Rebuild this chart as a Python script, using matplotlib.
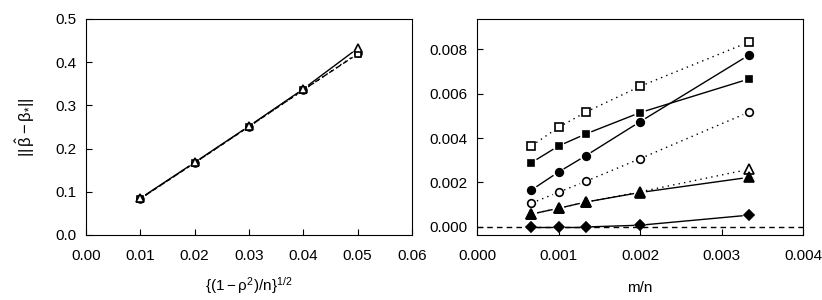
import numpy as np
import matplotlib
matplotlib.use("Agg")
import matplotlib.pyplot as plt

plt.rcParams['font.family'] = ['Liberation Sans', 'DejaVu Sans']
plt.rcParams['mathtext.fontset'] = 'custom'
plt.rcParams['mathtext.rm'] = 'Liberation Sans'
plt.rcParams['mathtext.it'] = 'Liberation Sans'
plt.rcParams['mathtext.bf'] = 'Liberation Sans:bold'

# ---- left panel data ----
left_x = [0.01, 0.02, 0.03, 0.04, 0.05]
left_tri = [0.085, 0.168, 0.252, 0.338, 0.432]
left_sq = [0.084, 0.167, 0.251, 0.336, 0.419]
left_circ = [0.084, 0.167, 0.251, 0.335, 0.421]
left_xticks = [0.00, 0.01, 0.02, 0.03, 0.04, 0.05, 0.06]
left_yticks = [0.0, 0.1, 0.2, 0.3, 0.4, 0.5]

# ---- right panel data ----
right_x = [1/1500, 1/1000, 1/750, 1/500, 1/300]
open_square = [0.00364, 0.00448, 0.00516, 0.00632, 0.00831]
filled_square = [0.00289, 0.00364, 0.00418, 0.00514, 0.00665]
filled_circle = [0.00166, 0.00247, 0.00320, 0.00473, 0.00772]
open_circle = [0.00107, 0.00156, 0.00205, 0.00307, 0.00516]
open_triangle = [0.00058, 0.00084, 0.00112, 0.00158, 0.00259]
filled_triangle = [0.00058, 0.00084, 0.00112, 0.00155, 0.00223]
filled_diamond = [0.0, 0.0, 0.0, 0.00008, 0.00053]
right_xticks = [0.000, 0.001, 0.002, 0.003, 0.004]
right_yticks = [0.000, 0.002, 0.004, 0.006, 0.008]

fig = plt.figure(figsize=(8.22, 3.0), dpi=100)
axL = fig.add_axes([0.1046, 0.2167, 0.3966, 0.72])
axR = fig.add_axes([0.5803, 0.2167, 0.3966, 0.72])

axL.set_xlim(0, 0.06)
axL.set_ylim(0, 0.5)
axR.set_xlim(0, 0.004)
axR.set_ylim(-0.00036, 0.00935)


def gapped(ax, x, y, ls, gap=6.0, lw=1.0):
    """Draw R type='b' style lines: segments trimmed near each point."""
    pts = ax.transData.transform(np.column_stack([x, y]))
    inv = ax.transData.inverted()
    for i in range(len(pts) - 1):
        p0, p1 = pts[i], pts[i + 1]
        d = p1 - p0
        L = np.hypot(*d)
        if L <= 2 * gap:
            continue
        u = d / L
        a = inv.transform(p0 + u * gap)
        b = inv.transform(p1 - u * gap)
        ax.plot([a[0], b[0]], [a[1], b[1]], color='black', lw=lw,
                linestyle=ls, solid_capstyle='butt', dash_capstyle='butt')


dotted = (0, (1, 3))
dashed = (0, (4, 2))

# left
for yv, m, ls in [(left_circ, 'o', dotted), (left_sq, 's', dashed), (left_tri, '^', '-')]:
    gapped(axL, left_x, yv, ls)
    axL.plot(left_x, yv, linestyle='none', marker=m, ms=6 if m == '^' else 5,
             mfc='white', mec='black', mew=1.2)

# right
axR.axhline(0, color='black', lw=1.0, linestyle=(0, (4, 3)))
series = [
    (open_square, 's', 'white', dotted, 5.5),
    (filled_square, 's', 'black', '-', 5),
    (filled_circle, 'o', 'black', '-', 5.5),
    (open_circle, 'o', 'white', dotted, 5.5),
    (open_triangle, '^', 'white', dotted, 7),
    (filled_triangle, '^', 'black', '-', 7),
    (filled_diamond, 'D', 'black', '-', 5),
]
for yv, m, fc, ls, ms in series:
    gapped(axR, right_x, yv, ls)
    axR.plot(right_x, yv, linestyle='none', marker=m, ms=ms,
             mfc=fc, mec='black', mew=1.2)

for ax in (axL, axR):
    ax.tick_params(direction='in', length=4, width=0.8, labelsize=11)
    ax.tick_params(axis='x', pad=10)
    ax.tick_params(axis='y', pad=7)
    for s in ax.spines.values():
        s.set_linewidth(0.8)

axL.set_xticks(left_xticks)
axL.set_xticklabels([f'{v:.2f}' for v in left_xticks])
axL.set_yticks(left_yticks)
axL.set_yticklabels([f'{v:.1f}' for v in left_yticks])
axR.set_xticks(right_xticks)
axR.set_xticklabels([f'{v:.3f}' for v in right_xticks])
axR.set_yticks(right_yticks)
axR.set_yticklabels([f'{v:.3f}' for v in right_yticks])

axL.set_xlabel(r'$\{(1-\rho^2)/n\}^{1/2}$', fontsize=11, labelpad=9)
axL.set_ylabel(r'$||\,\hat{\beta}-\beta_{*}||$', fontsize=12, labelpad=13)
axR.set_xlabel('m/n', fontsize=11, labelpad=13)

fig.savefig('out.png', dpi=100)
